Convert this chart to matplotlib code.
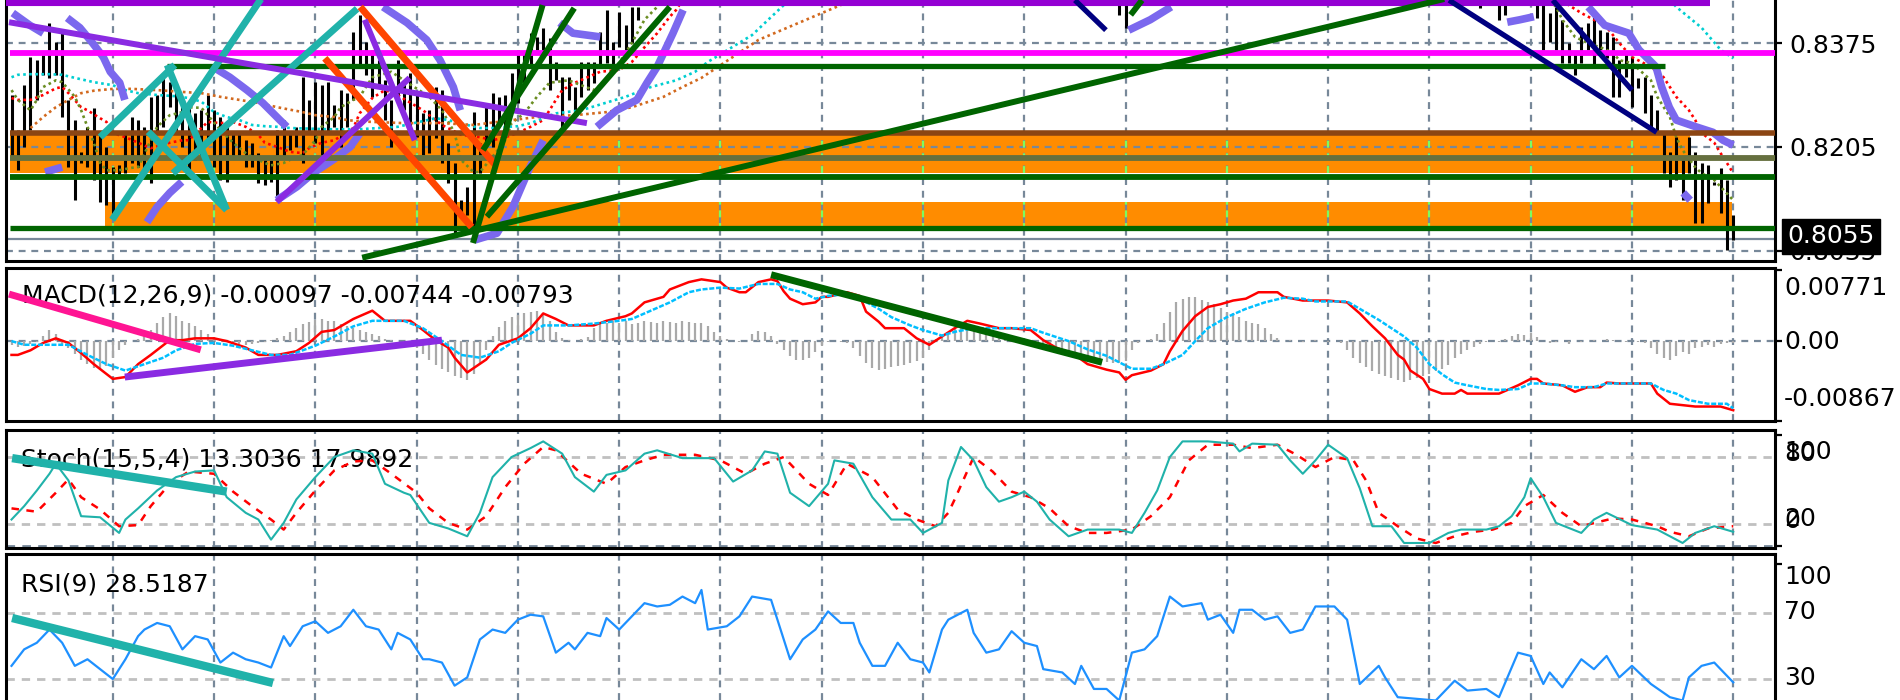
import numpy as np
import matplotlib
matplotlib.use("Agg")
import matplotlib.pyplot as plt

plt.rcParams['font.family'] = ['DejaVu Sans']

#%% data: price bars (bar index -> high / low)
left_high = [0.8290, 0.8233, 0.8306, 0.8352, 0.8347, 0.8355, 0.8408, 0.8377, 0.8393, 0.8282,
             0.8249, 0.8197, 0.8238, 0.8269, 0.8228, 0.8205, 0.8172, 0.8175, 0.8228, 0.8254,
             0.8249, 0.8238, 0.8287, 0.8290, 0.8326, 0.8311, 0.8310, 0.8282, 0.8270, 0.8260,
             0.8265, 0.8290, 0.8265, 0.8254, 0.8244, 0.8228, 0.8228, 0.8216, 0.8212, 0.8195,
             0.8189, 0.8184, 0.8233, 0.8249, 0.8228, 0.8238, 0.8319, 0.8282, 0.8311, 0.8306,
             0.8311, 0.8274, 0.8298, 0.8293, 0.8393, 0.8421, 0.8377, 0.8364, 0.8347, 0.8314,
             0.8282, 0.8347, 0.8310, 0.8326, 0.8293, 0.8260, 0.8265, 0.8303, 0.8298, 0.8212,
             0.8179, 0.8118, 0.8140, 0.8262, 0.8212, 0.8270, 0.8293, 0.8287, 0.8290, 0.8326,
             0.8364, 0.8359, 0.8391, 0.8385, 0.8400, 0.8383, 0.8344, 0.8319, 0.8319, 0.8303,
             0.8344, 0.8344, 0.8344, 0.8393, 0.8429, 0.8377, 0.8426, 0.8404, 0.8434, 0.8434]
left_low = [0.8189, 0.8167, 0.8205, 0.8233, 0.8282, 0.8323, 0.8318, 0.8323, 0.8254, 0.8172,
            0.8118, 0.8179, 0.8172, 0.8151, 0.8115, 0.8110, 0.8090, 0.8156, 0.8162, 0.8179,
            0.8172, 0.8162, 0.8146, 0.8228, 0.8238, 0.8270, 0.8228, 0.8205, 0.8162, 0.8184,
            0.8189, 0.8216, 0.8172, 0.8151, 0.8148, 0.8189, 0.8189, 0.8172, 0.8172, 0.8146,
            0.8143, 0.8148, 0.8123, 0.8189, 0.8200, 0.8205, 0.8179, 0.8228, 0.8212, 0.8189,
            0.8228, 0.8238, 0.8205, 0.8238, 0.8282, 0.8336, 0.8323, 0.8287, 0.8303, 0.8249,
            0.8205, 0.8282, 0.8265, 0.8228, 0.8221, 0.8192, 0.8195, 0.8220, 0.8179, 0.8146,
            0.8061, 0.8097, 0.8094, 0.8058, 0.8162, 0.8205, 0.8205, 0.8238, 0.8228, 0.8265,
            0.8277, 0.8303, 0.8336, 0.8364, 0.8359, 0.8298, 0.8314, 0.8238, 0.8282, 0.8260,
            0.8287, 0.8298, 0.8310, 0.8336, 0.8342, 0.8336, 0.8368, 0.8364, 0.8375, 0.8413]
mid_bar_idx = [175, 176]
mid_high = [0.8460, 0.8460]
mid_low = [0.8421, 0.8399]
right_start = 232
right_high = [0.8460, None, None, 0.8460, 0.8460, None, None, None, None, 0.8460,
              0.8460, 0.8424, 0.8434, 0.8413, 0.8375, 0.8359, 0.8401, 0.8408, 0.8418, 0.8396,
              0.8393, 0.8385, 0.8347, 0.8359, 0.8352, 0.8318, 0.8319, 0.8290, 0.8265, 0.8229,
              0.8197, 0.8221, 0.8189, 0.8221, 0.8197, 0.8179, 0.8175, 0.8148, 0.8171, 0.8151,
              0.8094]
right_low = [0.8432, None, None, 0.8413, 0.8421, None, None, None, None, 0.8416,
             0.8364, 0.8377, 0.8364, 0.8342, 0.8342, 0.8323, 0.8342, 0.8364, 0.8336, 0.8355,
             0.8350, 0.8287, 0.8287, 0.8319, 0.8270, 0.8301, 0.8260, 0.8233, 0.8228, 0.8162,
             0.8140, 0.8151, 0.8118, 0.8162, 0.8081, 0.8081, 0.8113, 0.8143, 0.8097, 0.8037,
             0.8053]

#%% data: moving averages on the price panel
ma_red_idx = [0, 1, 3, 5, 7, 8, 9, 11, 12, 14, 15, 16, 18, 20, 22, 25, 27, 28, 30, 31,
              33, 35, 37, 39, 40, 42, 44, 46, 47, 49, 51, 54, 55, 57, 59, 61, 65, 68, 71, 74,
              76, 78, 80, 82, 84, 85, 86, 87, 89, 91, 93, 96, 98, 100, 102, 104, 105, 106]
ma_red_val = [0.8285, 0.8282, 0.8282, 0.8290, 0.8301, 0.8303, 0.8293, 0.8270, 0.8265, 0.8252,
              0.8246, 0.8228, 0.8221, 0.8212, 0.8203, 0.8212, 0.8216, 0.8216, 0.8236, 0.8246,
              0.8244, 0.8246, 0.8238, 0.8225, 0.8212, 0.8205, 0.8197, 0.8195, 0.8203, 0.8212,
              0.8216, 0.8236, 0.8260, 0.8285, 0.8298, 0.8290, 0.8265, 0.8241, 0.8225, 0.8221,
              0.8216, 0.8221, 0.8228, 0.8238, 0.8249, 0.8265, 0.8282, 0.8298, 0.8310, 0.8319,
              0.8328, 0.8331, 0.8344, 0.8368, 0.8391, 0.8418, 0.8429, 0.8445]
ma_red_idx2 = [245, 246, 248, 250, 252, 254, 256, 259, 261, 262, 263, 265, 266, 267, 269, 270, 271, 272]
ma_red_val2 = [0.8445, 0.8437, 0.8424, 0.8413, 0.8401, 0.8375, 0.8352, 0.8336, 0.8319, 0.8303,
               0.8287, 0.8265, 0.8249, 0.8228, 0.8212, 0.8195, 0.8179, 0.8162]

ma_olive_idx = [0, 1, 3, 4, 5, 7, 8, 10, 11, 12, 13, 14, 15, 17, 19, 20, 22, 23, 25, 27,
                28, 30, 31, 33, 35, 37, 38, 40, 41, 43, 44, 46, 48, 49, 51, 52, 54, 55, 57, 60,
                62, 66, 68, 70, 71, 73, 74, 76, 78, 79, 81, 83, 85, 88, 90, 92, 94, 96, 98, 100,
                102, 103]
ma_olive_val = [0.8298, 0.8282, 0.8265, 0.8282, 0.8303, 0.8314, 0.8311, 0.8287, 0.8265, 0.8238,
                0.8212, 0.8179, 0.8167, 0.8167, 0.8171, 0.8172, 0.8216, 0.8238, 0.8257, 0.8262,
                0.8270, 0.8269, 0.8257, 0.8233, 0.8212, 0.8195, 0.8189, 0.8179, 0.8175, 0.8179,
                0.8184, 0.8192, 0.8216, 0.8238, 0.8254, 0.8270, 0.8282, 0.8287, 0.8319, 0.8328,
                0.8314, 0.8287, 0.8265, 0.8228, 0.8184, 0.8164, 0.8164, 0.8189, 0.8216, 0.8244,
                0.8260, 0.8287, 0.8310, 0.8314, 0.8306, 0.8298, 0.8314, 0.8342, 0.8375, 0.8413,
                0.8434, 0.8445]
ma_olive_idx2 = [243, 244, 245, 247, 249, 251, 253, 254, 256, 259, 260, 262, 263, 264, 266, 267, 269, 270, 272]
ma_olive_val2 = [0.8445, 0.8434, 0.8413, 0.8385, 0.8375, 0.8368, 0.8359, 0.8347, 0.8342, 0.8314,
                 0.8287, 0.8254, 0.8221, 0.8200, 0.8172, 0.8162, 0.8151, 0.8140, 0.8118]

ma_cyan_idx = [0, 1, 3, 6, 8, 10, 13, 16, 18, 20, 23, 26, 28, 30, 32, 34, 36, 38, 40, 42,
               44, 50, 55, 61, 67, 69, 72, 74, 76, 80, 82, 86, 90, 97, 101, 105, 108, 110, 117, 122,
               123]
ma_cyan_val = [0.8319, 0.8323, 0.8324, 0.8324, 0.8323, 0.8318, 0.8311, 0.8306, 0.8298, 0.8293,
               0.8290, 0.8288, 0.8285, 0.8279, 0.8262, 0.8254, 0.8249, 0.8241, 0.8239, 0.8238,
               0.8236, 0.8234, 0.8234, 0.8238, 0.8252, 0.8249, 0.8241, 0.8236, 0.8236, 0.8239,
               0.8244, 0.8260, 0.8265, 0.8287, 0.8303, 0.8314, 0.8328, 0.8344, 0.8388, 0.8437,
               0.8445]
ma_cyan_idx2 = [262, 263, 267, 270, 272]
ma_cyan_val2 = [0.8445, 0.8434, 0.8400, 0.8364, 0.8350]

ma_choc_idx = [3, 5, 7, 9, 11, 13, 16, 19, 23, 27, 30, 33, 36, 39, 42, 46, 48, 51, 53, 55,
               57, 62, 68, 73, 83, 89, 94, 98, 103, 106, 109, 118, 131, 132]
ma_choc_val = [0.8236, 0.8254, 0.8270, 0.8282, 0.8293, 0.8297, 0.8300, 0.8300, 0.8298, 0.8295,
               0.8293, 0.8287, 0.8282, 0.8277, 0.8270, 0.8262, 0.8257, 0.8254, 0.8249, 0.8247,
               0.8246, 0.8244, 0.8244, 0.8241, 0.8254, 0.8257, 0.8262, 0.8270, 0.8287, 0.8303,
               0.8318, 0.8380, 0.8437, 0.8445]

#%% data: parabolic SAR runs
sar_idx = [[0.2, 2.9, 5.0],
           [8.8, 10.8, 12.8, 14.5, 15.6, 17.1, 17.9],
           [5.3, 8.0],
           [21.4, 23.0, 25.0, 26.9],
           [31.8, 34.5, 37.2, 39.7, 42.4, 43.5],
           [41.9, 45.1, 47.6, 50.8, 53.5, 55.1],
           [58.7, 62.5, 65.6, 67.7, 69.8, 70.9],
           [73.2, 76.7, 79.2, 81.9, 84.0],
           [86.6, 88.7, 93.0],
           [92.5, 95.6, 98.8, 100.4, 102.0, 104.5, 106.1],
           [176.5, 179.9, 183.2],
           [236.3, 238.3, 240.5],
           [249.1, 251.7, 255.5, 257.1, 259.8, 260.7, 261.9, 263.0, 266.1, 268.8, 270.4, 272.0],
           [264.1, 265.2]]
sar_val = [[0.8424, 0.8404, 0.8391],
           [0.8416, 0.8400, 0.8375, 0.8352, 0.8328, 0.8310, 0.8282],
           [0.8164, 0.8172],
           [0.8082, 0.8107, 0.8130, 0.8148],
           [0.8336, 0.8319, 0.8298, 0.8277, 0.8249, 0.8238],
           [0.8118, 0.8140, 0.8162, 0.8184, 0.8205, 0.8228],
           [0.8434, 0.8408, 0.8380, 0.8347, 0.8303, 0.8265],
           [0.8053, 0.8064, 0.8107, 0.8172, 0.8216],
           [0.8408, 0.8391, 0.8385],
           [0.8238, 0.8265, 0.8282, 0.8310, 0.8336, 0.8391, 0.8429],
           [0.8396, 0.8413, 0.8434],
           [0.8409, 0.8413, 0.8418],
           [0.8434, 0.8404, 0.8391, 0.8364, 0.8336, 0.8303, 0.8270, 0.8249, 0.8238, 0.8229, 0.8216, 0.8208],
           [0.8130, 0.8118]]

#%% data: horizontal levels, zones and trend lines (bar index, price)
level_price = [0.8440, 0.8359, 0.8337, 0.8228, 0.8187, 0.8156, 0.8073]
level_from = [-0.9, -0.2, 24.6, -0.2, -0.2, -0.2, -0.2]
level_to = [268.3, 280, 261.2, 280, 280, 280, 280]
zone_low = [0.8162, 0.8069]
zone_high = [0.8225, 0.8115]
zone_from = [-0.2, 14.8]
zone_to = [265.2, 271.8]
bid_price = 0.8055

teal_lines = [[(15.9, 0.8086), (40.0, 0.8456)],
              [(14.0, 0.8221), (25.8, 0.8339)],
              [(24.6, 0.8339), (34.0, 0.8102)],
              [(25.5, 0.8162), (54.6, 0.8431)],
              [(21.6, 0.8230), (34.0, 0.8102)]]
red_lines = [[(55.1, 0.8434), (76.4, 0.8176)],
             [(49.5, 0.8350), (72.7, 0.8074)]]
violet_lines = [[(-0.4, 0.8409), (90.9, 0.8244)],
                [(41.9, 0.8115), (62.9, 0.8318)],
                [(55.8, 0.8413), (63.7, 0.8216)]]
green_lines = [[(55.4, 0.8024), (228.8, 0.8453)],
               [(72.9, 0.8048), (83.9, 0.8437)],
               [(74.5, 0.8200), (88.9, 0.8432)],
               [(75.1, 0.8091), (104.0, 0.8434)],
               [(176.8, 0.8421), (178.6, 0.8445)]]
navy_lines = [[(227.1, 0.8445), (259.9, 0.8229)],
              [(243.5, 0.8445), (256.0, 0.8298)],
              [(168.0, 0.8445), (172.9, 0.8396)]]

#%% data: MACD (values in 1e-4)
macd_idx = [0, 1, 3, 5, 7, 9, 11, 13, 16, 18, 20, 22, 25, 27, 29, 32, 34, 37, 39, 42,
            45, 47, 49, 51, 54, 57, 59, 63, 65, 67, 69, 70, 72, 75, 77, 80, 82, 84, 86, 88,
            92, 94, 97, 98, 100, 103, 104, 107,
            109, 112, 113, 115, 116, 118, 120, 121, 122, 123, 125, 127, 128, 129, 132, 134, 135, 137, 138, 141,
            143, 145, 147, 149, 151, 153, 156, 158, 161, 163, 165, 168, 170, 173, 175, 176, 177, 180, 182, 183,
            185, 187, 189, 191, 193, 195, 197, 200, 201, 204, 208, 211, 213, 215, 217, 219,
            220, 221, 223, 224, 226, 228, 229, 230, 235, 238, 240, 241, 242, 245, 247, 249, 251, 252, 254, 259,
            260, 262, 266, 270, 272]
macd_val = [-15, -15, -10, -2, 3, -2, -13, -25, -41, -39, -25, -15, 1, 1, 3, 3, 0, -7, -15, -15,
            -11, -2, 10, 12, 24, 33, 22, 22, 12, 1, -7, -18, -34, -20, -4, 3, 14, 30, 24, 17,
            17, 22, 27, 30, 42, 48, 56, 64,
            67, 64, 58, 53, 53, 64, 67, 65, 54, 46, 40, 42, 48, 48, 53, 49, 32, 21, 14, 14,
            3, -4, 5, 14, 22, 19, 14, 14, 12, 1, -7, -15, -25, -31, -34, -42, -37, -32, -25, -11,
            11, 27, 37, 40, 44, 46, 53, 53, 48, 44, 44, 42, 30, 16, 3, -15,
            -20, -32, -41, -52, -57, -57, -53, -57, -57, -48, -41, -41, -46, -48, -55, -50, -50, -45, -46, -46,
            -57, -68, -71, -71, -75]
signal_idx = [0, 2, 5, 9, 12, 15, 18, 21, 24, 26, 29, 32, 35, 38, 41, 44, 48, 51, 54, 57,
              60, 62, 65, 68, 71, 74, 77, 79, 82, 84, 88, 92, 96, 98, 101, 104, 107,
              109, 112, 115, 118, 121, 123, 125, 127, 129, 132, 134, 137, 139, 142, 144, 147, 149, 152, 156, 161,
              163, 167, 170, 173, 175, 177, 180, 182, 185, 187, 189, 192, 195, 198, 201, 204, 206, 211, 213, 216,
              218, 220,
              222, 224, 226, 228, 230, 233, 235, 238, 240, 242, 245, 247, 250, 252, 259, 261, 263, 265, 268, 271,
              272]
signal_val = [0, -4, -4, -4, -15, -25, -32, -25, -18, -10, -3, -2, -5, -10, -15, -15, -5, 5, 16, 22,
              22, 22, 14, 0, -15, -18, -11, -2, 8, 17, 17, 19, 22, 24, 33, 42, 53,
              56, 58, 57, 62, 62, 56, 53, 46, 49, 51, 46, 35, 26, 17, 12, 6, 10, 14, 14, 14,
              9, 0, -9, -16, -23, -30, -30, -25, -15, 0, 14, 26, 35, 42, 47, 46, 43, 43, 35, 23,
              14, 5,
              -7, -25, -36, -45, -48, -52, -53, -52, -46, -46, -48, -50, -50, -46, -46, -53, -57, -64, -68, -68,
              -73]
macd_hist = [-4, -6, -5, -3, -1, 6, 12, 8, -3, -8, -14, -20, -25, -29, -30, -27,
             -18, -10, -4, 0, 2, 5, 12, 20, 26, 30, 27, 22, 20, 16, 12, 8,
             4, 2, -1, -2, -3, -4, -3, -2, -1, 1, 3, 6, 10, 14, 18, 21,
             23, 24, 22, 22, 19, 16, 14, 12, 10, 8, 5, 2, 1, 0, -1, -2,
             -8, -14, -20, -26, -30, -34, -38, -40, -42, -36, -25, -10, 5, 15, 22, 26,
             28, 30, 32, 33, 30, 22, 10, 3, 1, 0, 2, 4, 14, 18, 20, 22,
             20, 22, 18, 20, 22, 21, 20, 22, 21, 20, 22, 21, 20, 20, 16, 10,
             5, 2, 0, -1, 0, 8, 11, 10, 6, -3, -10, -16, -20, -21, -18, -12,
             -5, -1, 0, -1, -2, -8, -16, -24, -29, -31, -30, -28, -27, -26, -24, -22,
             -18, -10, 2, 6, 10, 13, 15, 16, 15, 12, 9, 6, 4, 2, 1, 0,
             0, -2, -4, -6, -8, -10, -13, -15, -17, -19, -20, -21, -22, -23, -24, -24,
             -22, -10, -2, 0, 2, 8, 20, 32, 42, 46, 48, 48, 45, 42, 40, 36,
             32, 30, 26, 22, 20, 18, 14, 8, 3, 0, 1, 0, -1, 0, 1, 0,
             -1, 0, -2, -10, -18, -24, -28, -32, -36, -38, -40, -42, -44, -42, -40, -38,
             -36, -32, -30, -26, -18, -14, -10, -6, -3, -1, 0, -1, 2, 5, 8, 7,
             9, 4, 0, -2, -1, 0, -3, 0, -1, 0, 1, 0, 2, 1, 0, -1,
             0, -1, -2, -8, -14, -18, -20, -16, -12, -14, -8, -6, -4, -6, -3, -2,
             -2]
macd_trend = [[(-0.4, 51), (29.9, -9.5)],
              [(17.9, -39), (68.0, 1)],
              [(120.0, 72), (172.3, -23)]]

#%% data: stochastic
sto_idx = [0, 2, 4, 6, 7, 9, 11, 14, 17, 18, 20, 23, 26, 29, 32, 34, 37, 39, 41, 43,
           45, 48, 51, 54, 57, 59, 62, 63, 66, 69, 72, 74, 76, 79, 82, 84, 87, 89, 92, 94,
           97, 100, 102, 106, 111, 114, 117, 119, 121, 123, 126, 129, 130, 133, 136, 139, 142, 144, 147, 148,
           150, 152, 154, 156, 158, 160, 162, 164, 167, 170, 175, 177, 179, 181, 183, 185, 189, 193, 194, 196,
           200, 202, 204, 206, 208, 211, 213, 215, 218, 220, 224, 227, 229, 233, 235, 237, 239, 240, 242, 244,
           248, 250, 252, 256, 260, 264, 266, 269, 272]
sto_val = [24, 36, 50, 65, 74, 59, 27, 26, 12, 24, 34, 50, 62, 67, 68, 44, 30, 24, 6, 21,
           42, 62, 80, 86, 83, 56, 48, 46, 21, 16, 9, 30, 62, 80, 88, 94, 83, 62, 49, 64,
           68, 83, 86, 79, 79, 58, 68, 85, 83, 48, 36, 56, 77, 74, 44, 24, 24, 12, 21, 59,
           89, 77, 53, 40, 44, 49, 40, 24, 9, 15, 15, 12, 30, 50, 80, 94, 94, 92, 85, 92,
           91, 77, 65, 77, 91, 79, 52, 18, 18, 3, 3, 12, 15, 15, 18, 27, 44, 61, 44, 21,
           12, 24, 30, 19, 15, 3, 12, 18, 13]
sto_sig_idx = [0, 4, 7, 9, 11, 14, 17, 20, 22, 25, 28, 32, 35, 38, 41, 43, 45, 48, 51, 54,
               57, 60, 64, 66, 69, 72, 75, 78, 81, 84, 86, 90, 94, 97, 100, 103, 108, 112, 116, 119,
               122, 126, 129, 132, 136, 140, 143, 146, 148,
               149, 152, 155, 158, 161, 164, 167, 170, 173, 177, 180, 183, 186, 189, 193, 196, 200, 203, 206, 209,
               212, 214, 216, 219, 222, 225, 228, 231, 234, 237, 239, 242, 245, 248, 253, 256, 260, 262, 265, 268,
               272]
sto_sig_val = [34, 31, 48, 60, 44, 33, 18, 19, 36, 56, 67, 65, 49, 36, 24, 15, 30, 50, 68, 76,
               77, 65, 48, 34, 21, 15, 27, 53, 74, 89, 86, 65, 56, 71, 77, 82, 82, 77, 65, 74,
               80, 56, 46, 74, 62, 33, 24, 18, 30,
               42, 80, 67, 49, 44, 34, 18, 12, 12, 15, 27, 44, 77, 91, 91, 88, 91, 82, 71, 80,
               77, 59, 30, 18, 7, 3, 9, 13, 15, 21, 36, 46, 30, 18, 25, 24, 18, 13, 9, 16,
               18]
sto_trend = [(0.1, 79), (34.0, 49)]

#%% data: RSI
rsi_idx = [0, 2, 4, 6, 8, 10, 12, 14, 16, 18, 20, 21, 23, 25, 27, 29, 31, 33, 35, 37,
           39, 41, 43, 44, 46, 48, 50, 52, 54, 56, 58, 60, 61, 63, 65, 66, 68, 70, 72, 74,
           76, 78, 80, 82, 84, 86, 88, 89, 91, 93, 94, 96, 98, 100, 102, 104, 106, 108, 109, 110,
           113, 115, 117, 120, 123, 125, 127, 129, 131, 133, 134, 136, 138, 140, 142, 144, 145, 147, 148,
           151, 152, 154, 156, 158, 160, 162, 163, 166, 168, 169, 171, 173, 175, 177, 179, 181, 183, 185, 188,
           189, 191, 193, 194, 196, 198, 200, 202, 204, 206, 209, 211, 213, 216, 217, 219, 225, 228, 230, 233,
           235, 238, 240, 242, 243, 245, 248, 250, 252, 254, 256, 259, 262, 264, 265, 267, 269, 272]
rsi_val = [38, 48, 52, 60, 52, 38, 42, 36, 30, 42, 56, 60, 64, 62, 48, 56, 54, 40, 46, 42,
           40, 37, 56, 50, 62, 65, 58, 62, 72, 62, 60, 48, 58, 54, 42, 42, 40, 26, 31, 54,
           60, 58, 66, 69, 68, 46, 52, 48, 58, 56, 67, 60, 68, 76, 74, 75, 80, 76, 84, 60,
           62, 68, 80, 78, 42, 54, 60, 71, 64, 64, 52, 38, 38, 52, 42, 40, 34, 60, 66,
           72, 58, 46, 48, 59, 52, 50, 36, 34, 27, 38, 24, 24, 17, 46, 48, 56, 80, 74, 76,
           66, 69, 58, 72, 72, 66, 68, 58, 60, 74, 74, 66, 27, 38, 31, 19, 17, 29, 23, 24,
           19, 46, 44, 27, 34, 25, 42, 36, 44, 31, 38, 27, 19, 17, 31, 38, 40, 28]
rsi_trend = [(0.1, 67), (41.3, 27.6)]

price_ticks = [0.8375, 0.8205, 0.8035]

#%% figure and panels (pixel rows of the 1900x700 screenshot)
W, H = 1900, 700
fig = plt.figure(figsize=(19, 7), dpi=100)


def panel(top, bottom):
    return fig.add_axes([6 / W, 1 - bottom / H, (1775 - 6) / W, (bottom - top) / H])


ax = panel(0, 261)
axm = panel(268, 421)
axs = panel(430, 548)
axr = panel(554, 700)

grid_c = '#778899'
dash = (0, (3.1, 2.6))
xlim = (-0.87, 278.6)
for a in (ax, axm, axs, axr):
    a.set_xlim(*xlim)
    a.set_xticks([])
    for s in a.spines.values():
        s.set_linewidth(2.2)
        s.set_color('black')
    a.tick_params(axis='y', left=False, right=True, labelleft=False, labelright=False,
                  length=5, width=1.6, direction='out')
    for g in range(16, 273, 16):
        a.axvline(g, color=grid_c, lw=1.6, ls=dash, zorder=0.5)

ax.spines['top'].set_visible(False)
axr.spines['bottom'].set_visible(False)

#%% price panel
ax.set_ylim(0.80186, 0.84453)
for lo, hi, x0, x1 in zip(zone_low, zone_high, zone_from, zone_to):
    ax.fill_between([x0, x1], lo, hi, color='#FF8C00', lw=0, zorder=0.3)
    for g in range(16, 273, 16):
        if x0 < g < x1:
            ax.plot([g, g], [lo, hi], color='#7CFC60', lw=1.6, ls=dash, zorder=0.6)
for v in price_ticks:
    ax.axhline(v, color=grid_c, lw=1.6, ls=dash, zorder=0.5)
ax.axhline(bid_price, color=grid_c, lw=1.6, zorder=0.7)

# bars
ax.vlines(range(len(left_high)), left_low, left_high, color='black', lw=2.2, zorder=2)
ax.vlines(mid_bar_idx, mid_low, mid_high, color='black', lw=2.2, zorder=2)
r_idx = [right_start + k for k in range(len(right_high)) if right_high[k] is not None]
r_hi = [h for h in right_high if h is not None]
r_lo = [l for l in right_low if l is not None]
ax.vlines(r_idx, r_lo, r_hi, color='black', lw=2.2, zorder=2)

dot = (0, (1, 1.3))
for xs, ys, c in [(ma_red_idx, ma_red_val, '#FF0000'), (ma_red_idx2, ma_red_val2, '#FF0000'),
                  (ma_olive_idx, ma_olive_val, '#6B8E23'), (ma_olive_idx2, ma_olive_val2, '#6B8E23'),
                  (ma_cyan_idx, ma_cyan_val, '#00CED1'), (ma_cyan_idx2, ma_cyan_val2, '#00CED1'),
                  (ma_choc_idx, ma_choc_val, '#D2691E')]:
    ax.plot(xs, ys, color=c, lw=1.9, ls=dot, zorder=3)

for xs, ys in zip(sar_idx, sar_val):
    ax.plot(xs, ys, color='#7B68EE', lw=5.5, solid_capstyle='butt', zorder=3.2)

level_color = ['#9400D3', '#FF00FF', '#006400', '#8B4513', '#66703F', '#006400', '#006400']
level_lw = [4.4, 4.2, 3.8, 4.0, 4.2, 4.2, 3.8]
for p, x0, x1, c, w in zip(level_price, level_from, level_to, level_color, level_lw):
    ax.plot([x0, x1], [p, p], color=c, lw=w, solid_capstyle='butt', zorder=4)

for lines, c, w in [(teal_lines, '#20B2AA', 5), (red_lines, '#FF4500', 5),
                    (violet_lines, '#8A2BE2', 4.3), (green_lines, '#006400', 4.3),
                    (navy_lines, '#000080', 3.8)]:
    for (x0, y0), (x1, y1) in lines:
        ax.plot([x0, x1], [y0, y1], color=c, lw=w, solid_capstyle='butt', zorder=5)

ax.set_yticks(price_ticks)
ax.set_yticklabels([f'{v:.4f}' for v in price_ticks])
ax.tick_params(axis='y', labelright=True, labelsize=18, pad=5)
fig.text(1787 / W, 1 - 236 / H, f'{bid_price:.4f}', color='white', fontsize=18,
         va='center', ha='left',
         bbox=dict(boxstyle='square,pad=0.22', fc='black', ec='black'))

#%% MACD panel
axm.set_ylim(-0.00867, 0.00793)
axm.vlines(range(len(macd_hist)), 0, np.array(macd_hist) * 1e-4, color='#A9A9A9', lw=1.6, zorder=1)
axm.axhline(0, color=grid_c, lw=1.6, ls=dash, zorder=0.8)
axm.plot(macd_idx, np.array(macd_val) * 1e-4, color='#FF0000', lw=1.8, zorder=3)
axm.plot(signal_idx, np.array(signal_val) * 1e-4, color='#00BFFF', lw=1.8, ls=(0, (2, 0.7)), zorder=3)
for (x0, y0), (x1, y1), c in zip([t[0] for t in macd_trend], [t[1] for t in macd_trend],
                                 ['#FF1493', '#8A2BE2', '#006400']):
    axm.plot([x0, x1], [y0 * 1e-4, y1 * 1e-4], color=c, lw=5, solid_capstyle='butt', zorder=4)
axm.set_yticks([0.00771, 0.0, -0.00867])
axm.text(0.009, 0.82, 'MACD(12,26,9) -0.00097 -0.00744 -0.00793', transform=axm.transAxes,
         fontsize=18, va='center', ha='left', zorder=2)

#%% stochastic panel
axs.set_ylim(-1.5, 104.2)
for lv in (80, 20):
    axs.axhline(lv, color='#C0C0C0', lw=2, ls=(0, (3, 2.5)), zorder=0.8)
axs.axhline(0, color=grid_c, lw=2, ls=dash, zorder=0.8)
axs.plot(sto_sig_idx, sto_sig_val, color='#FF0000', lw=1.8, ls=(0, (3, 3)), zorder=3)
axs.plot(sto_idx, sto_val, color='#20B2AA', lw=1.5, zorder=3)
axs.plot([p[0] for p in sto_trend], [p[1] for p in sto_trend], color='#20B2AA', lw=6,
         solid_capstyle='butt', zorder=4)
axs.set_yticks([100, 0])
axs.text(0.0085, 0.75, 'Stoch(15,5,4) 13.3036 17.9892', transform=axs.transAxes,
         fontsize=18, va='center', ha='left', zorder=2)

#%% RSI panel
axr.set_ylim(17.3, 105.8)
for lv in (70, 30):
    axr.axhline(lv, color='#C0C0C0', lw=2, ls=(0, (3, 2.5)), zorder=0.8)
axr.plot(rsi_idx, rsi_val, color='#1E90FF', lw=1.6, zorder=3)
axr.plot([p[0] for p in rsi_trend], [p[1] for p in rsi_trend], color='#20B2AA', lw=6,
         solid_capstyle='butt', zorder=4)
axr.set_yticks([100])
axr.text(0.0085, 0.79, 'RSI(9) 28.5187', transform=axr.transAxes,
         fontsize=18, va='center', ha='left', zorder=2)

#%% right-hand scale labels of the indicator windows
for s, y in [('0.00771', 288), ('0.00', 342), ('-0.00867', 399),
             ('100', 452), ('80', 454), ('20', 519), ('0', 521),
             ('100', 577), ('70', 612), ('30', 678)]:
    fig.text(1784 / W, 1 - y / H, s, fontsize=18, va='center', ha='left')

fig.savefig('out.png', dpi=100)
